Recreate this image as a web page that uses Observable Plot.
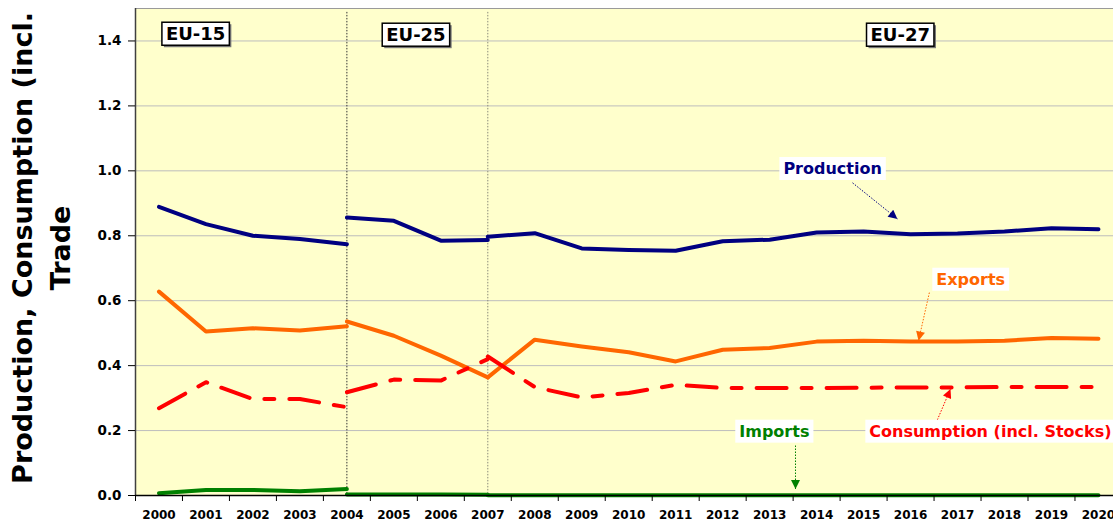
<!DOCTYPE html>
<html><head><meta charset="utf-8">
<script src="https://cdn.jsdelivr.net/npm/d3@7"></script>
<script src="https://cdn.jsdelivr.net/npm/@observablehq/plot@0.6"></script>
<style>body{margin:0;background:#fff} svg{display:block}</style>
</head><body><div id="chart"></div>
<script>
// ---------- data ----------
const years15 = [2000, 2001, 2002, 2003, 2004];
const years25 = [2004, 2005, 2006, 2007];
const years27 = [2007, 2008, 2009, 2010, 2011, 2012, 2013, 2014, 2015, 2016, 2017, 2018, 2019, 2020];
const xTickYears = [2000, 2001, 2002, 2003, 2004, 2005, 2006, 2007, 2008, 2009, 2010, 2011, 2012, 2013, 2014, 2015, 2016, 2017, 2018, 2019, 2020];

const production15 = [0.889, 0.836, 0.800, 0.790, 0.774];
const production25 = [0.856, 0.846, 0.785, 0.787];
const production27 = [0.797, 0.808, 0.761, 0.756, 0.754, 0.783, 0.788, 0.810, 0.813, 0.805, 0.807, 0.813, 0.823, 0.820];

const exports15 = [0.628, 0.505, 0.515, 0.508, 0.521];
const exports25 = [0.536, 0.492, 0.431, 0.364];
const exports27 = [0.364, 0.480, 0.459, 0.441, 0.413, 0.449, 0.454, 0.474, 0.477, 0.474, 0.474, 0.477, 0.485, 0.483];

const consumption15 = [0.269, 0.349, 0.297, 0.297, 0.272];
const consumption25 = [0.318, 0.357, 0.354, 0.420];
const consumption27 = [0.428, 0.334, 0.302, 0.316, 0.341, 0.331, 0.331, 0.331, 0.332, 0.333, 0.333, 0.334, 0.334, 0.334];

const imports15 = [0.007, 0.017, 0.017, 0.013, 0.020];
const imports25 = [0.003, 0.003, 0.003, 0.002];
const imports27 = [0.001, 0.001, 0.001, 0.001, 0.001, 0.001, 0.001, 0.001, 0.001, 0.001, 0.001, 0.001, 0.001, 0.001];

const yTicks = [0, 0.2, 0.4, 0.6, 0.8, 1.0, 1.2, 1.4];
const periodBreaks = [2004, 2007];

const periodLabels = ["EU-15", "EU-25", "EU-27"];
const periodLabelX = [2000.78, 2005.47, 2015.78];
const periodLabelY = [1.42, 1.417, 1.417];

const seriesNames = ["Production", "Exports", "Consumption (incl. Stocks)", "Imports"];
const seriesColors = ["#000080", "#FF6600", "#FF0000", "#008000"];
const labelX = [2014.34, 2017.28, 2017.70, 2013.10];
const labelY = [1.006, 0.665, 0.197, 0.197];
const arrowX1 = [2014.765, 2016.40, 2016.57, 2013.55];
const arrowY1 = [0.963, 0.625, 0.233, 0.154];
const arrowX2 = [2015.72, 2016.17, 2016.85, 2013.55];
const arrowY2 = [0.852, 0.477, 0.328, 0.020];

const yTitle1 = "Production, Consumption (incl.";
const yTitle2 = "Trade";

// ---------- build tables ----------
function seg(name, period, years, values) {
  return years.map((year, i) => ({series: name, period, year, value: values[i]}));
}
const solidRows = [
  ...seg("Production", "EU-15", years15, production15),
  ...seg("Production", "EU-25", years25, production25),
  ...seg("Production", "EU-27", years27, production27),
  ...seg("Exports", "EU-15", years15, exports15),
  ...seg("Exports", "EU-25", years25, exports25),
  ...seg("Exports", "EU-27", years27, exports27),
  ...seg("Imports", "EU-15", years15, imports15),
  ...seg("Imports", "EU-25", years25, imports25),
  ...seg("Imports", "EU-27", years27, imports27)
];
const dashedRows = [
  ...seg("Consumption (incl. Stocks)", "EU-15", years15, consumption15),
  ...seg("Consumption (incl. Stocks)", "EU-25", years25, consumption25),
  ...seg("Consumption (incl. Stocks)", "EU-27", years27, consumption27)
];
const colorOf = Object.fromEntries(seriesNames.map((n, i) => [n, seriesColors[i]]));
const periodRows = periodLabels.map((t, i) => ({t, x: periodLabelX[i], y: periodLabelY[i]}));
const labelRows = seriesNames.map((t, i) => ({t, x: labelX[i], y: labelY[i], c: seriesColors[i]}));
const arrowRows = seriesNames.map((t, i) => ({x1: arrowX1[i], y1: arrowY1[i], x2: arrowX2[i], y2: arrowY2[i], c: seriesColors[i], i}));
const boundaries = xTickYears.map(y => y - 0.5);
const gridTicks = yTicks.filter(v => v > 0);

const plot = Plot.plot({
  width: 1113, height: 522,
  marginLeft: 135, marginRight: 0, marginTop: 8, marginBottom: 27,
  style: {fontFamily: "DejaVu Sans", fontWeight: "bold", fontSize: "12px", background: "white", color: "black"},
  x: {type: "linear", domain: [1999.5, 2020.32], label: null},
  y: {domain: [0, 1.5], label: null},
  marks: [
    Plot.frame({fill: "#FFFFCC", stroke: null}),
    Plot.ruleY(gridTicks, {stroke: "#BDBDBD", strokeWidth: 1}),
    Plot.ruleY([1.5], {stroke: "#9A9A9A", strokeWidth: 1.2}),
    Plot.ruleX(periodBreaks, {y1: 1.488, y2: 0, stroke: (d, i) => i === 0 ? "#333333" : "#8A8A7A", strokeWidth: 1, strokeDasharray: "1.5,1.5"}),
    Plot.line(solidRows, {x: "year", y: "value", z: d => d.series + d.period, stroke: d => colorOf[d.series], strokeWidth: 4, strokeLinejoin: "round", strokeLinecap: "round"}),
    Plot.line(dashedRows, {x: "year", y: "value", z: "period", stroke: d => colorOf[d.series], strokeWidth: 4, strokeDasharray: "30,15,10,15", strokeLinejoin: "round"}),
    Plot.ruleX([1999.5], {stroke: "#404040", strokeWidth: 1.5}),
    Plot.ruleY([0], {stroke: "black", strokeWidth: 1.5}),
    Plot.axisY(yTicks, {tickSize: 7, tickPadding: 7, tickFormat: d3.format(".1f"), fontSize: 13.5, fontWeight: "bold", label: null}),
    Plot.axisX(xTickYears, {tickSize: 0, tickPadding: 15, tickFormat: d => String(d), fontSize: 12, fontWeight: "bold", label: null}),
    Plot.axisX(boundaries, {tickSize: 6, tickFormat: () => "", label: null}),
    Plot.link(arrowRows, {x1: "x1", y1: "y1", x2: "x2", y2: "y2", stroke: "c", strokeWidth: 1, strokeDasharray: "1.5,1.5", ariaDescription: "annot-arrows"}),
    Plot.text(periodRows, {x: "x", y: "y", text: "t", fontSize: 18, fontWeight: "bold", fill: "black", ariaDescription: "period-labels"}),
    Plot.text(labelRows, {x: "x", y: "y", text: "t", fill: "c", fontSize: 16, fontWeight: "bold", ariaDescription: "series-labels"})
  ]
});
document.getElementById("chart").appendChild(plot);

// ---------- post-processing: label boxes, arrowheads, axis title ----------
const svg = d3.select(plot);
const defs = svg.insert("defs", ":first-child");
seriesColors.forEach((c, i) => {
  defs.append("marker").attr("id", "ah" + i)
    .attr("viewBox", "0 0 10 10").attr("refX", 10).attr("refY", 5)
    .attr("markerUnits", "userSpaceOnUse").attr("markerWidth", 10).attr("markerHeight", 9)
    .attr("orient", "auto")
    .append("path").attr("d", "M0,0L10,5L0,10Z").attr("fill", c);
});
svg.selectAll('g[aria-description="annot-arrows"] path').each(function(d, k) {
  d3.select(this).attr("marker-end", `url(#ah${k})`);
});

function boxes(label, padX, padY, stroke, shadow) {
  svg.selectAll(`g[aria-description="${label}"] text`).each(function() {
    const node = this;
    const b = node.getBBox();
    const parent = d3.select(node.parentNode);
    const tr = node.getAttribute("transform");
    if (shadow) {
      const s = parent.insert("rect", () => node)
        .attr("x", b.x - padX + 2).attr("y", b.y - padY + 2)
        .attr("width", b.width + 2 * padX).attr("height", b.height + 2 * padY)
        .attr("fill", "#777");
      if (tr) s.attr("transform", tr);
    }
    const r = parent.insert("rect", () => node)
      .attr("x", b.x - padX).attr("y", b.y - padY)
      .attr("width", b.width + 2 * padX).attr("height", b.height + 2 * padY)
      .attr("fill", "white");
    if (stroke) r.attr("stroke", "black").attr("stroke-width", 1.5);
    if (tr) r.attr("transform", tr);
  });
}
boxes("period-labels", 4, 1, true, true);
boxes("series-labels", 4, 2, false, false);

svg.append("text").attr("transform", "translate(32,248) rotate(-90)")
  .attr("text-anchor", "middle").attr("font-size", 27).attr("font-weight", "bold")
  .attr("fill", "black").text(yTitle1);
svg.append("text").attr("transform", "translate(70,248) rotate(-90)")
  .attr("text-anchor", "middle").attr("font-size", 27).attr("font-weight", "bold")
  .attr("fill", "black").text(yTitle2);
</script>
</body></html>
